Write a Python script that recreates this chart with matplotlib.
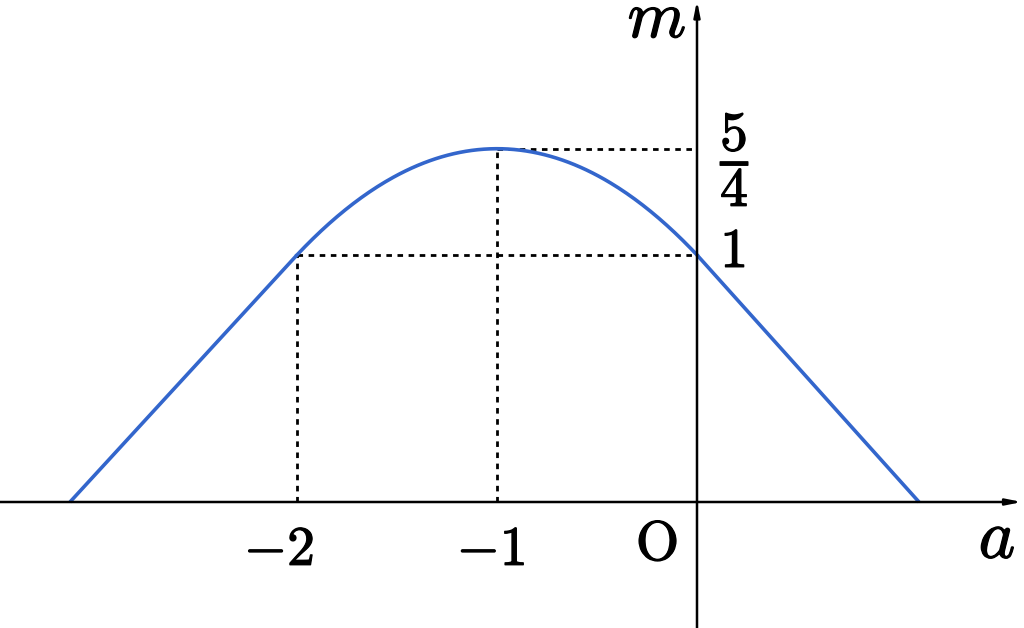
import numpy as np
import matplotlib
matplotlib.use("Agg")
import matplotlib.pyplot as plt
import matplotlib.patheffects as pe

plt.rcParams['mathtext.fontset'] = 'cm'

# key points of the curve, as drawn (a, m)
a_left, a_right = -3.135, 1.11
a_join = [-2.0, 0.0]
m_join = 1.0
a_peak, m_peak = -1.0, 1.43   # drawn height of the 5/4 level

x_ticks = [-2, -1]
x_tick_labels = [r'$-2$', r'$-1$']
y_tick_vals = [1.0, m_peak]
y_tick_labels = [r'$1$', r'$\dfrac{5}{4}$']

blue = '#3366cc'

fig = plt.figure(figsize=(10.24, 6.28), dpi=100)
ax = fig.add_axes([0, 0, 1, 1])
ax.set_xlim(-3.485, 1.635)
ax.set_ylim(-0.510, 2.032)
ax.axis('off')

# curve: line, parabola through the join points, line
k = (m_peak - m_join) / (a_join[0] - a_peak) ** 2
ap = np.linspace(a_join[0], a_join[1], 200)
mp = m_peak - k * (ap - a_peak) ** 2
ax.plot([a_left, a_join[0]], [0, m_join], color=blue, lw=2.6, solid_capstyle='butt', zorder=3)
ax.plot(ap, mp, color=blue, lw=2.6, zorder=3)
ax.plot([a_join[1], a_right], [m_join, 0], color=blue, lw=2.6, solid_capstyle='butt', zorder=3)

# dotted guides
dots = (0, (2.0, 2.0))
ax.plot([a_join[0], a_join[0]], [0, m_join], color='black', lw=2.0, ls=dots)
ax.plot([a_join[0], 0], [m_join, m_join], color='black', lw=2.0, ls=dots)
ax.plot([a_peak, a_peak], [0, m_peak], color='black', lw=2.0, ls=dots)
ax.plot([a_peak, 0], [m_peak, m_peak], color='black', lw=2.0, ls=dots)

# axes with arrows
arw = dict(arrowstyle='-|>,head_length=0.9,head_width=0.18', color='black', lw=1.8,
           shrinkA=0, shrinkB=0)
ax.annotate('', xy=(1.625, 0), xytext=(-3.485, 0), arrowprops=arw)
ax.annotate('', xy=(0, 2.03), xytext=(0, -0.51), arrowprops=arw)

# labels
fs = 40
bold = [pe.withStroke(linewidth=0.9, foreground='black')]
ax.text(x_ticks[0] - 0.09, -0.255, x_tick_labels[0], fontsize=fs, ha='center', va='baseline', path_effects=bold)
ax.text(x_ticks[1] - 0.03, -0.255, x_tick_labels[1], fontsize=fs, ha='center', va='baseline', path_effects=bold)
ax.text(-0.2, -0.235, r'$\mathrm{O}$', fontsize=fs, ha='center', va='baseline', path_effects=bold)
ax.text(0.18, 0.951, y_tick_labels[0], fontsize=fs, ha='center', va='baseline', path_effects=bold)
ax.text(0.19, 1.385, y_tick_labels[1], fontsize=fs, ha='center', va='center', path_effects=bold)
ax.text(-0.2, 1.88, r'$m$', fontsize=48, ha='center', va='baseline', path_effects=bold)
ax.text(1.5, -0.227, r'$a$', fontsize=50, ha='center', va='baseline', path_effects=bold)

fig.savefig('out.png', dpi=100)
